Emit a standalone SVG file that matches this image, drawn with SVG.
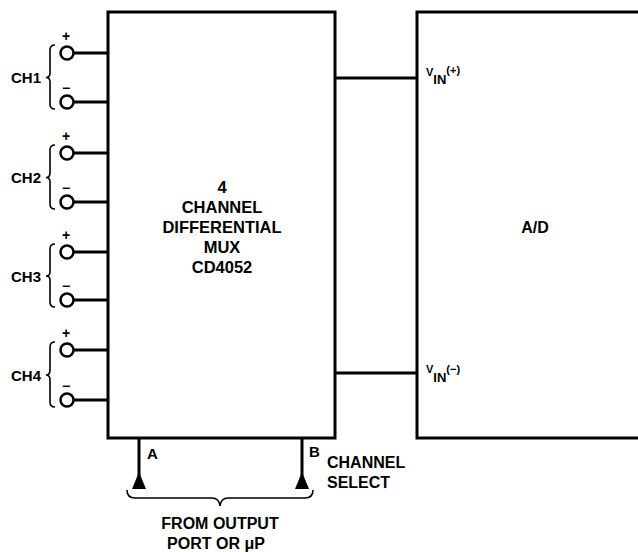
<svg xmlns="http://www.w3.org/2000/svg" width="638" height="552" viewBox="0 0 638 552">
<style>
.box{fill:none;stroke:#000;stroke-width:3}
.w{stroke:#000;stroke-width:3;fill:none}
.term{fill:#fff;stroke:#000;stroke-width:2.5}
.br{fill:none;stroke:#000;stroke-width:1.6}
text{font-family:"Liberation Sans",Arial,sans-serif;font-weight:bold;fill:#000}
.ch{font-size:15px;text-anchor:end}
.mux{font-size:16.5px;text-anchor:middle}
.lbl{font-size:16px}
.pm{font-size:14px;text-anchor:middle}
</style>
<rect width="638" height="552" fill="#fff"/>
<g id="mux">
<rect class="box" x="108" y="12" width="227" height="426"/>
<text class="mux" x="222" y="193">4</text>
<text class="mux" x="222" y="213">CHANNEL</text>
<text class="mux" x="222" y="233">DIFFERENTIAL</text>
<text class="mux" x="222" y="253">MUX</text>
<text class="mux" x="222" y="273">CD4052</text>
</g>
<g id="adc">
<path class="box" d="M645,12 H417 V438 H645"/>
<text class="lbl" x="535" y="233" text-anchor="middle">A/D</text>
<text x="426" y="76" font-size="11">V<tspan dy="8" font-size="13">IN</tspan><tspan dy="-10" font-size="11">(+)</tspan></text>
<text x="426" y="373" font-size="11">V<tspan dy="9" font-size="13">IN</tspan><tspan dy="-9" font-size="11">(−)</tspan></text>
</g>
<g id="connectors">
<path class="w" d="M73,53 H108 M73,102 H108 M73,153 H108 M73,202 H108 M73,252 H108 M73,300 H108 M73,350 H108 M73,400 H108"/>
<path class="w" d="M335,78 H417 M335,373 H417"/>
<path class="w" d="M139,438 V476 M302,438 V476"/>
</g>
<g id="ch1">
<circle class="term" cx="67" cy="53" r="6.5"/>
<circle class="term" cx="67" cy="102" r="6.5"/>
<text class="pm" x="66" y="41">+</text>
<text class="pm" x="66" y="93">−</text>
<path class="br" d="M55,45 Q50,45 50,50 V73 Q50,77.5 46,77.5 Q50,77.5 50,82 V104 Q50,109 55,109"/>
<text class="ch" x="41" y="83">CH1</text>
</g>
<g id="ch2">
<circle class="term" cx="67" cy="153" r="6.5"/>
<circle class="term" cx="67" cy="202" r="6.5"/>
<text class="pm" x="66" y="141">+</text>
<text class="pm" x="66" y="193">−</text>
<path class="br" d="M55,145 Q50,145 50,150 V173 Q50,177.5 46,177.5 Q50,177.5 50,182 V204 Q50,209 55,209"/>
<text class="ch" x="41" y="183">CH2</text>
</g>
<g id="ch3">
<circle class="term" cx="67" cy="252" r="6.5"/>
<circle class="term" cx="67" cy="300" r="6.5"/>
<text class="pm" x="66" y="240">+</text>
<text class="pm" x="66" y="291">−</text>
<path class="br" d="M55,244 Q50,244 50,249 V272 Q50,276 46,276 Q50,276 50,280 V302 Q50,307 55,307"/>
<text class="ch" x="41" y="281.5">CH3</text>
</g>
<g id="ch4">
<circle class="term" cx="67" cy="350" r="6.5"/>
<circle class="term" cx="67" cy="400" r="6.5"/>
<text class="pm" x="66" y="338">+</text>
<text class="pm" x="66" y="391">−</text>
<path class="br" d="M55,342 Q50,342 50,347 V370 Q50,375 46,375 Q50,375 50,380 V402 Q50,407 55,407"/>
<text class="ch" x="41" y="380.5">CH4</text>
</g>
<g id="pinA">
<polygon points="139,472 146,489 132,489" fill="#000"/>
<text x="147" y="459" font-size="15">A</text>
</g>
<g id="pinB">
<polygon points="302,472 309,489 295,489" fill="#000"/>
<text x="309" y="457" font-size="15">B</text>
<text class="lbl" x="327" y="468">CHANNEL</text>
<text class="lbl" x="327" y="488">SELECT</text>
</g>
<g id="source">
<path class="br" d="M127,490 Q127,498 135,498 H212 Q219,498 220,506 Q221,498 228,498 H305 Q313,498 313,490" stroke-width="2"/>
<text class="lbl" x="220" y="529" text-anchor="middle">FROM OUTPUT</text>
<text class="lbl" x="216" y="549" text-anchor="middle">PORT OR μP</text>
</g>
</svg>
